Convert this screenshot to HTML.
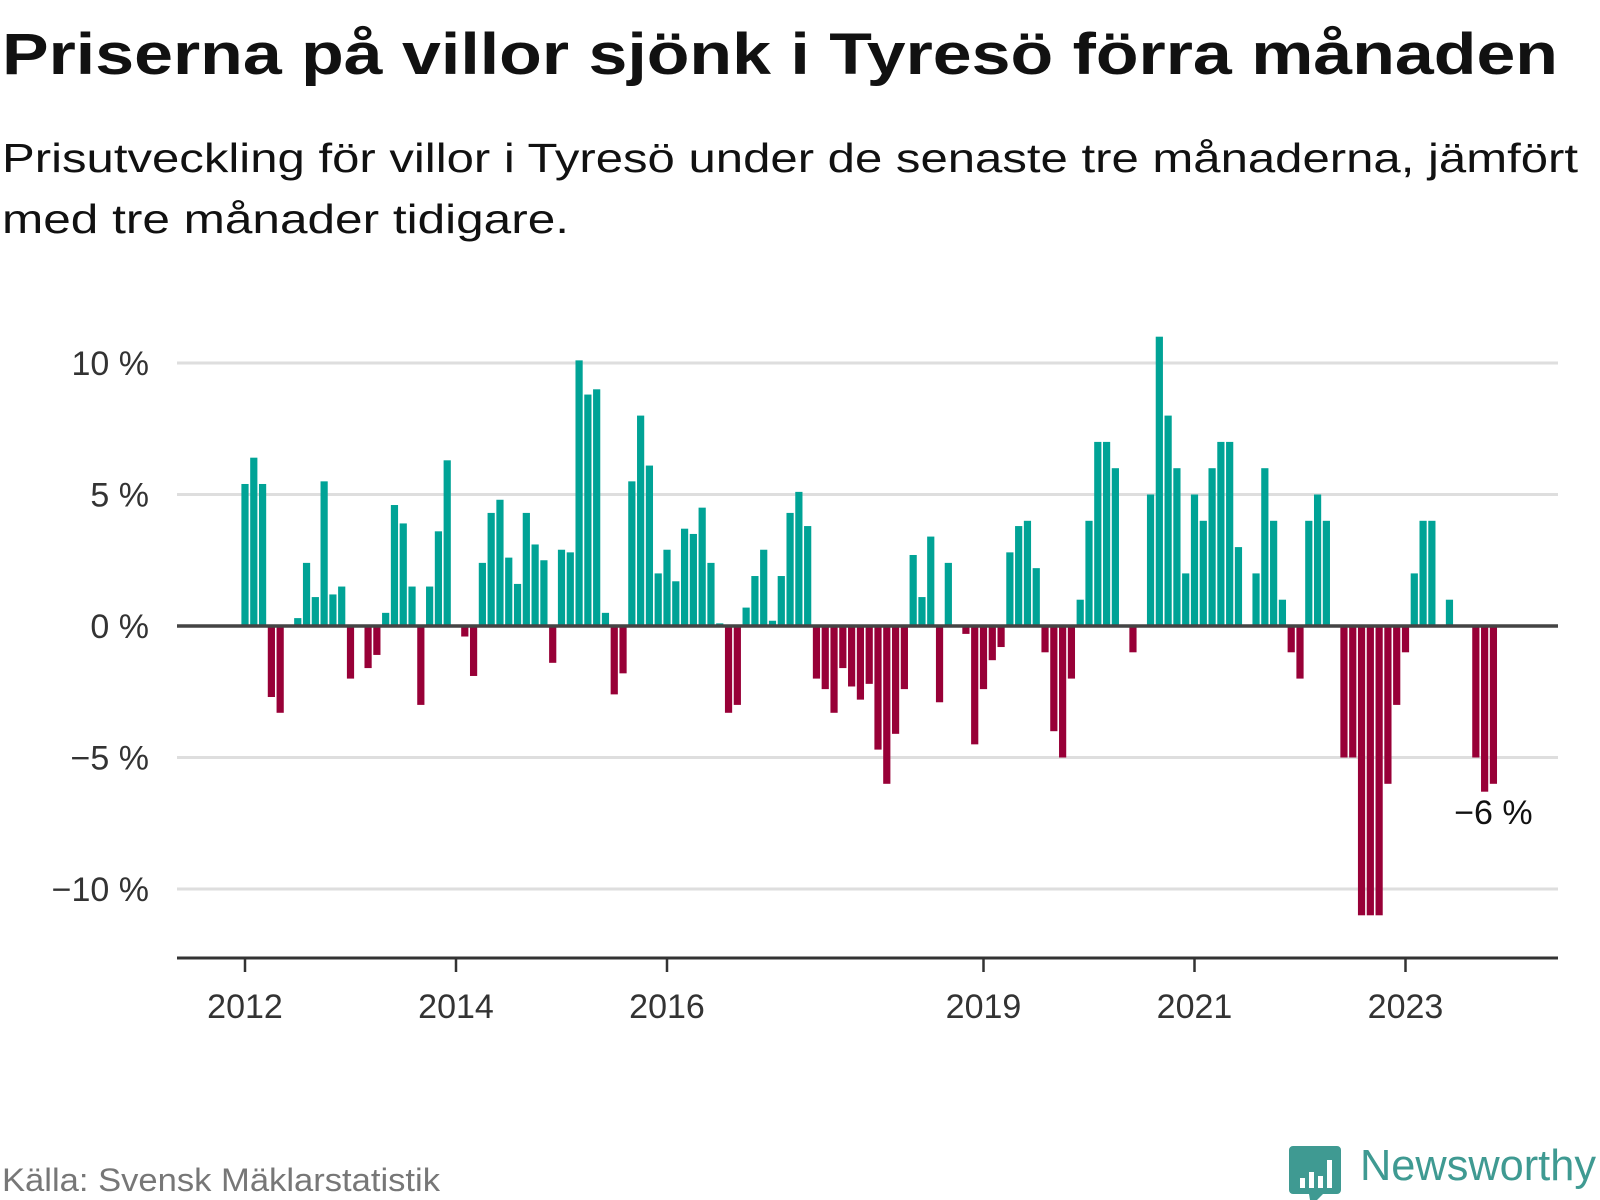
<!DOCTYPE html>
<html><head><meta charset="utf-8">
<style>
html,body{margin:0;padding:0;background:#fff;}
svg{display:block;font-family:"Liberation Sans","DejaVu Sans",sans-serif;}
</style></head>
<body>
<svg id="chart" width="1600" height="1200" viewBox="0 0 1600 1200" xmlns="http://www.w3.org/2000/svg">
<text x="2" y="74" font-size="58" font-weight="bold" fill="#111" textLength="1556" lengthAdjust="spacingAndGlyphs">Priserna på villor sjönk i Tyresö förra månaden</text>
<text x="2" y="172" font-size="41" fill="#111" textLength="1576" lengthAdjust="spacingAndGlyphs">Prisutveckling för villor i Tyresö under de senaste tre månaderna, jämfört</text>
<text x="2" y="233" font-size="41" fill="#111" textLength="567" lengthAdjust="spacingAndGlyphs">med tre månader tidigare.</text>
<g id="grid"></g>
<g id="bars"></g>
<g id="axes"></g>
<text x="2" y="1191" font-size="32" fill="#777" textLength="438" lengthAdjust="spacingAndGlyphs">Källa: Svensk Mäklarstatistik</text>
<g>
<path d="M1293 1146 h44 a4 4 0 0 1 4 4 v40 a4 4 0 0 1 -4 4 h-14 l-12 12 l-2 -12 h-16 a4 4 0 0 1 -4 -4 v-40 a4 4 0 0 1 4 -4z" fill="#3f9a92"/>
<rect x="1300" y="1178" width="5" height="10" fill="#fff"/>
<rect x="1309" y="1172" width="5" height="16" fill="#fff"/>
<rect x="1318" y="1176" width="5" height="12" fill="#fff"/>
<rect x="1327" y="1160" width="5" height="28" fill="#fff"/>
<text x="1360" y="1180" font-size="44" fill="#3f9a92" textLength="236" lengthAdjust="spacingAndGlyphs">Newsworthy</text>
</g>
</svg>
<script>
const yTicks = [10, 5, 0, -5, -10];
const yTickLabels = ["10 %", "5 %", "0 %", "\u22125 %", "\u221210 %"];
const xTickYears = [2012, 2014, 2016, 2019, 2021, 2023];
const startYear = 2012;
const values = [
5.4,6.4,5.4,-2.7,-3.3,0,0.3,2.4,1.1,5.5,1.2,1.5,
-2.0,0,-1.6,-1.1,0.5,4.6,3.9,1.5,-3.0,1.5,3.6,6.3,
0,-0.4,-1.9,2.4,4.3,4.8,2.6,1.6,4.3,3.1,2.5,-1.4,
2.9,2.8,10.1,8.8,9.0,0.5,-2.6,-1.8,5.5,8.0,6.1,2.0,
2.9,1.7,3.7,3.5,4.5,2.4,0.1,-3.3,-3.0,0.7,1.9,2.9,
0.2,1.9,4.3,5.1,3.8,-2.0,-2.4,-3.3,-1.6,-2.3,-2.8,-2.2,
-4.7,-6.0,-4.1,-2.4,2.7,1.1,3.4,-2.9,2.4,0,-0.3,-4.5,
-2.4,-1.3,-0.8,2.8,3.8,4.0,2.2,-1.0,-4.0,-5.0,-2.0,1.0,
4.0,7.0,7.0,6.0,0,-1.0,0,5.0,11.0,8.0,6.0,2.0,
5.0,4.0,6.0,7.0,7.0,3.0,0,2.0,6.0,4.0,1.0,-1.0,
-2.0,4.0,5.0,4.0,0,-5.0,-5.0,-11.0,-11.0,-11.0,-6.0,-3.0,
-1.0,2.0,4.0,4.0,0,1.0,0,0,-5.0,-6.3,-6.0
];
const lastLabel = "\u22126 %";

const NS = "http://www.w3.org/2000/svg";
const x0 = 245, monthW = 105.5/12, plotL = 177, plotR = 1558;
const yZero = 626, pxPerPct = 26.3;
function xScale(i){ return x0 + i*monthW; }
function xYear(y){ return x0 + (y-startYear)*12*monthW; }
function yScale(v){ return yZero - v*pxPerPct; }
function mk(tag, attrs, parent){ const e=document.createElementNS(NS,tag); for(const k in attrs) e.setAttribute(k,attrs[k]); parent.appendChild(e); return e; }

const grid=document.getElementById('grid'), bars=document.getElementById('bars'), axes=document.getElementById('axes');
yTicks.forEach((t,i)=>{
  if(t!==0){
    const l=mk('line',{x1:plotL,x2:plotR,y1:yScale(t),y2:yScale(t),stroke:'#dedede','stroke-width':3},grid);
    
    
  }
  const tx=mk('text',{x:149,y:yScale(t)+12,'text-anchor':'end','font-size':34,fill:'#333'},grid);
  tx.textContent=yTickLabels[i];
  
  
});
values.forEach((v,i)=>{
  if(v===0) return;
  const y=Math.min(yScale(v),yZero), h=Math.abs(yScale(v)-yZero);
  const r=mk('rect',{x:xScale(i)-3.6,y:y,width:7.2,height:h,fill:v>0?'#00a396':'#980037'},bars);
  
  
});
const zl=mk('line',{x1:plotL,x2:plotR,y1:yZero,y2:yZero,stroke:'#444','stroke-width':3.5},axes);


const xa=mk('line',{x1:plotL,x2:plotR,y1:958,y2:958,stroke:'#333','stroke-width':3},axes);


xTickYears.forEach(yr=>{
  const tk=mk('line',{x1:xYear(yr),x2:xYear(yr),y1:958,y2:972,stroke:'#333','stroke-width':2.5},axes);
  
  
  const t=mk('text',{x:xYear(yr),y:1018,'text-anchor':'middle','font-size':34,fill:'#333'},axes);
  t.textContent=String(yr);
  
  
});
const li=values.length-1;
const lab=mk('text',{x:xScale(li),y:yScale(values[li])+40,'text-anchor':'middle','font-size':34,fill:'#111'},axes);
lab.textContent=lastLabel;


</script>
</body></html>
